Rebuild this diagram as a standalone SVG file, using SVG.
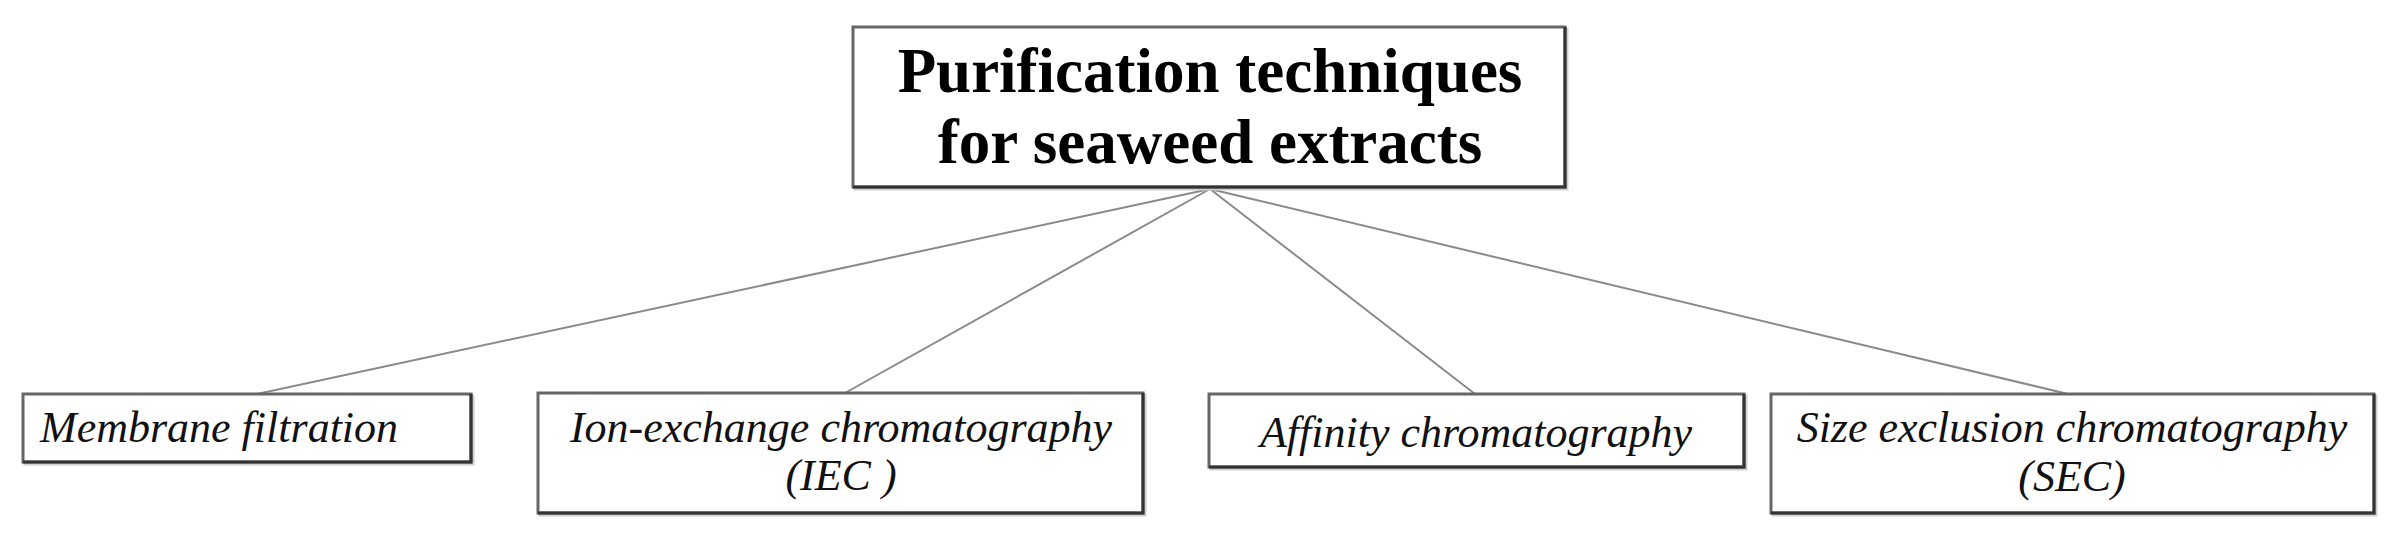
<svg xmlns="http://www.w3.org/2000/svg" width="2390" height="539" viewBox="0 0 2390 539">
<style>
.shadow{fill:none;stroke:#cfcfcf;stroke-width:3}
.box{fill:#fff;stroke:#666;stroke-width:3}
.edge{stroke:#333;stroke-width:3;fill:none}
.title{font-family:"Liberation Serif",serif;font-weight:bold;font-size:63px;fill:#000;text-anchor:middle}
.lbl{font-family:"Liberation Serif",serif;font-style:italic;font-size:44px;fill:#111;text-anchor:middle}
.conn{stroke:#8a8a8a;stroke-width:2;fill:none}
</style>
<rect width="2390" height="539" fill="#fff"/>
<g id="connectors">
<line class="conn" x1="1210" y1="189" x2="257" y2="394"/>
<line class="conn" x1="1210" y1="189" x2="845" y2="393"/>
<line class="conn" x1="1210" y1="189" x2="1475" y2="394"/>
<line class="conn" x1="1210" y1="189" x2="2068" y2="394"/>
</g>
<g id="title">
<rect class="shadow" x="855" y="29" width="712" height="160"/>
<rect class="box" x="853" y="27" width="712" height="160"/>
<path class="edge" d="M853 187H1565V27"/>
<text class="title" x="1210" y="92">Purification techniques</text>
<text class="title" x="1210" y="163">for seaweed extracts</text>
</g>
<g id="membrane">
<rect class="shadow" x="25" y="396" width="448" height="68"/>
<rect class="box" x="23" y="394" width="448" height="68"/>
<path class="edge" d="M23 462H471V394"/>
<text class="lbl" x="40" y="442" style="text-anchor:start">Membrane filtration</text>
</g>
<g id="iec">
<rect class="shadow" x="540" y="395" width="605" height="120"/>
<rect class="box" x="538" y="393" width="605" height="120"/>
<path class="edge" d="M538 513H1143V393"/>
<text class="lbl" x="841" y="442">Ion-exchange chromatography</text>
<text class="lbl" x="841" y="490">(IEC )</text>
</g>
<g id="affinity">
<rect class="shadow" x="1211" y="396" width="535" height="73"/>
<rect class="box" x="1209" y="394" width="535" height="73"/>
<path class="edge" d="M1209 467H1744V394"/>
<text class="lbl" x="1476" y="447">Affinity chromatography</text>
</g>
<g id="sec">
<rect class="shadow" x="1773" y="396" width="603" height="119"/>
<rect class="box" x="1771" y="394" width="603" height="119"/>
<path class="edge" d="M1771 513H2374V394"/>
<text class="lbl" x="2072" y="442">Size exclusion chromatography</text>
<text class="lbl" x="2072" y="491">(SEC)</text>
</g>
</svg>
